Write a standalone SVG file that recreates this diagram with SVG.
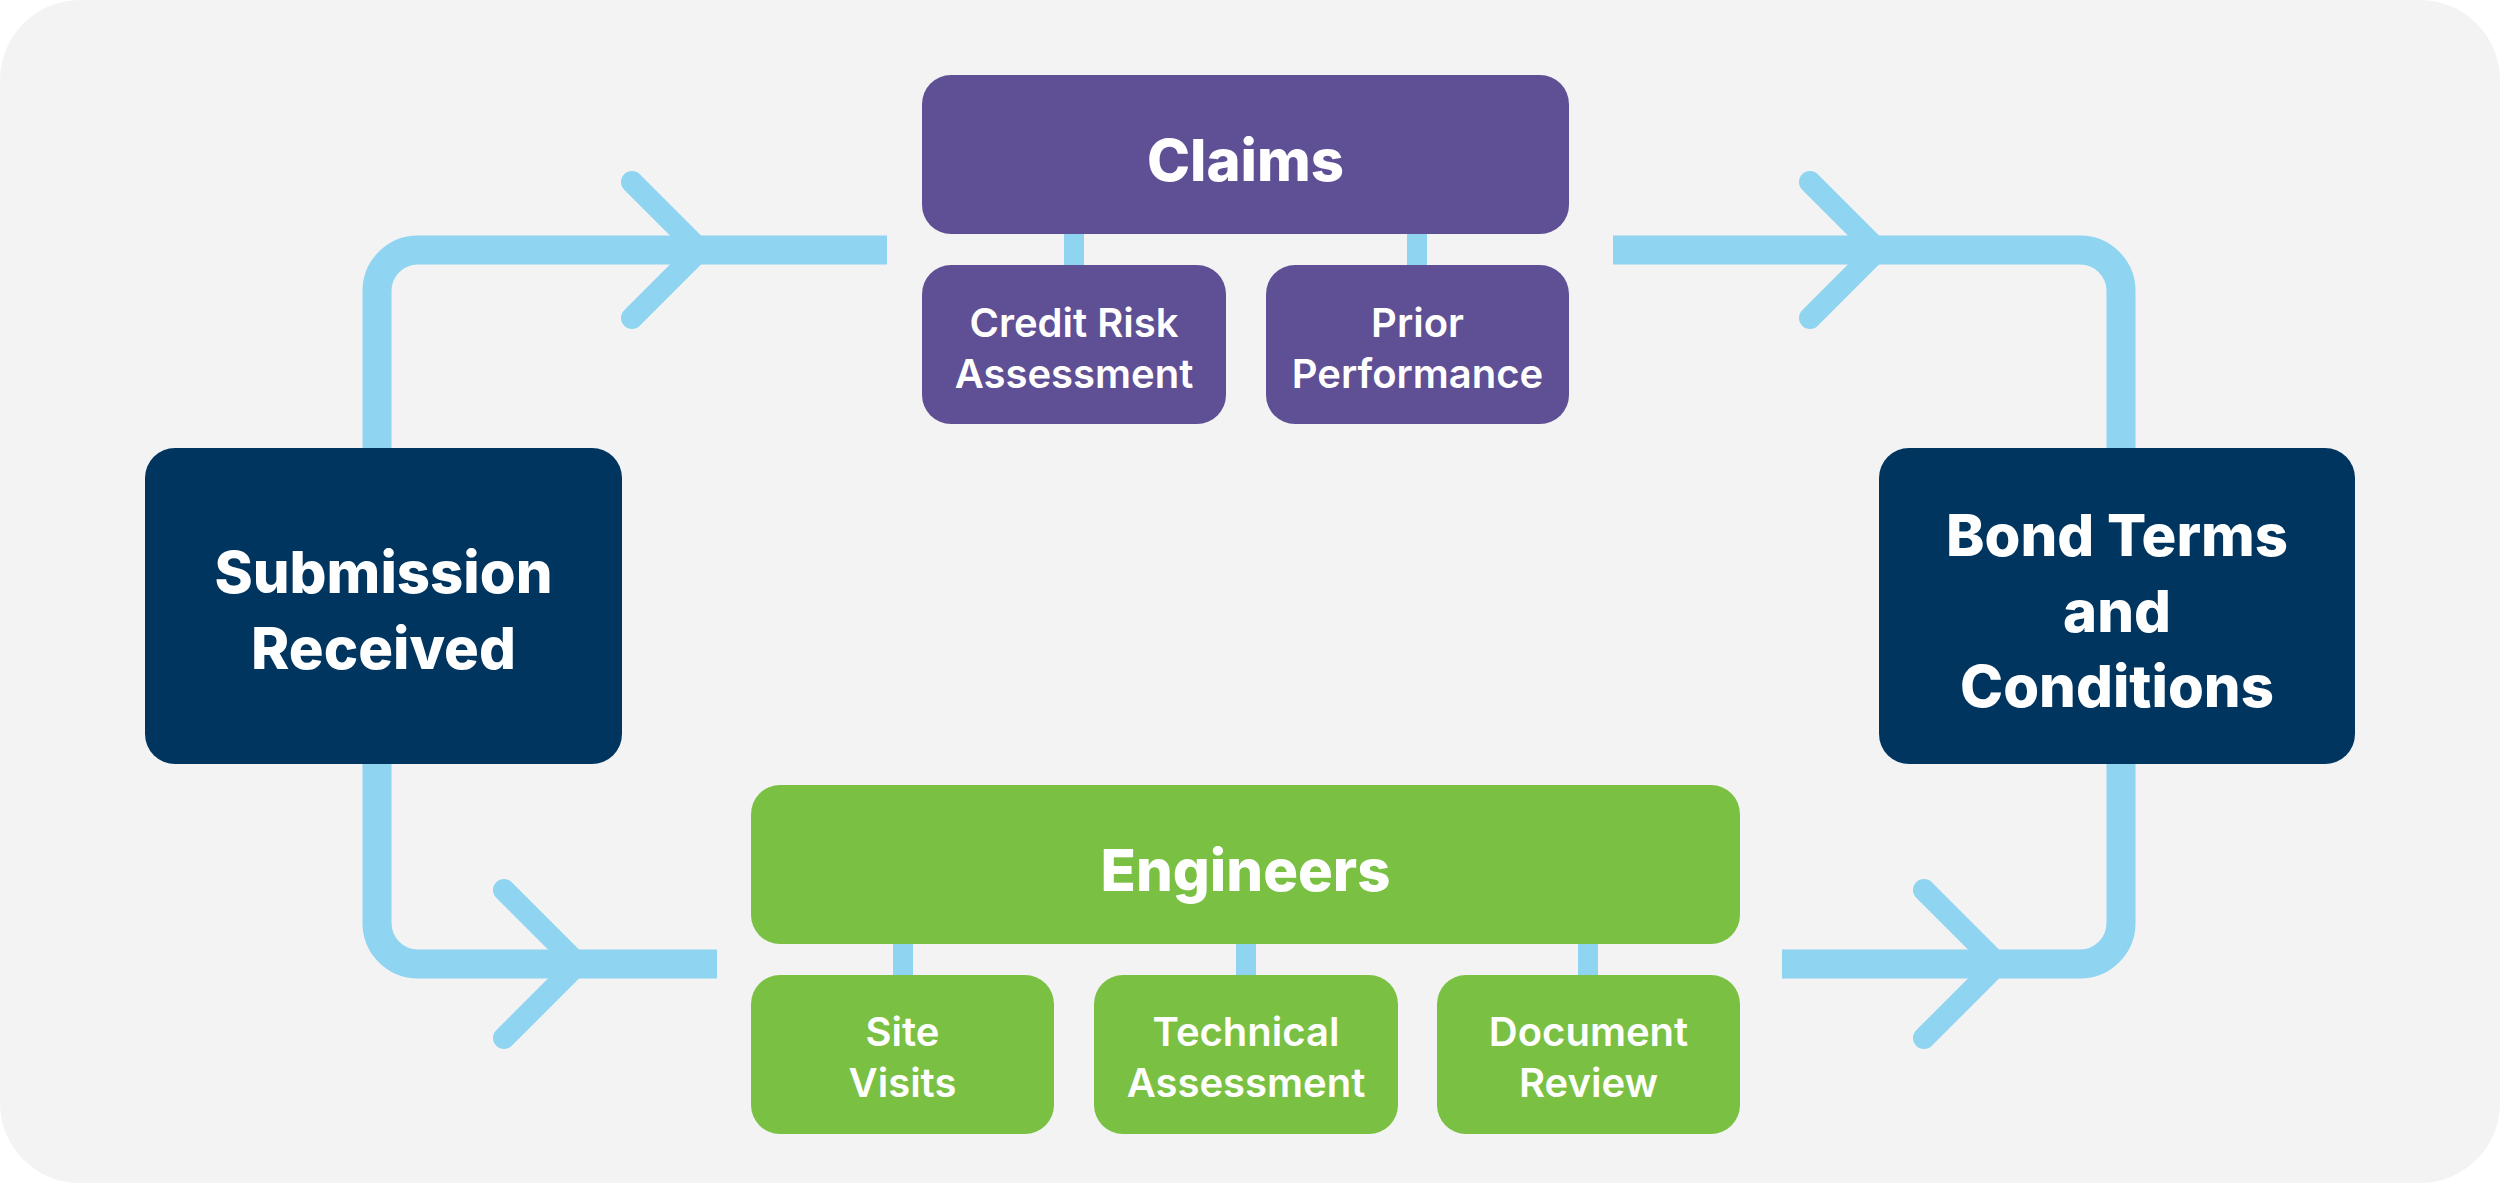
<svg xmlns="http://www.w3.org/2000/svg" width="2500" height="1183" viewBox="0 0 2500 1183">
<style>
.conn{fill:none;stroke:#8fd4f0;stroke-width:29}
.chev{fill:none;stroke:#8fd4f0;stroke-width:22;stroke-linecap:round;stroke-linejoin:round}
.bar{fill:#8fd4f0}
.purple{fill:#5f5096}
.navy{fill:#00355f}
.green{fill:#7ac143}
.big{font-family:Inter,"Open Sans","Liberation Sans",sans-serif;font-weight:800;font-size:58px;fill:#fff;text-anchor:middle}
.small{font-family:Inter,"Open Sans","Liberation Sans",sans-serif;font-weight:600;font-size:40px;fill:#fff;text-anchor:middle}
</style>
<rect x="0" y="0" width="2500" height="1183" fill="#ffffff"/>
<rect x="0" y="0" width="2500" height="1183" rx="80" ry="80" fill="#f3f3f3"/>
<g id="connectors">
<path class="conn" d="M377 448 V291 A41 41 0 0 1 418 250 H887"/>
<path class="conn" d="M1613 250 H2080 A41 41 0 0 1 2121 291 V448"/>
<path class="conn" d="M377 764 V923 A41 41 0 0 0 418 964 H717"/>
<path class="conn" d="M1782 964 H2080 A41 41 0 0 0 2121 923 V764"/>
<polyline class="chev" points="632,182 700,250 632,318"/>
<polyline class="chev" points="1810,182 1878,250 1810,318"/>
<polyline class="chev" points="504,890 578,964 504,1038"/>
<polyline class="chev" points="1924,890 1998,964 1924,1038"/>
<rect class="bar" x="1064" y="230" width="20" height="40"/>
<rect class="bar" x="1407" y="230" width="20" height="40"/>
<rect class="bar" x="893" y="940" width="20" height="40"/>
<rect class="bar" x="1236" y="940" width="20" height="40"/>
<rect class="bar" x="1578" y="940" width="20" height="40"/>
</g>
<g id="claims">
<rect class="purple" x="922" y="75" width="647" height="159" rx="29"/>
<text class="big" x="1245.5" y="181">Claims</text>
</g>
<g id="credit-risk">
<rect class="purple" x="922" y="265" width="304" height="159" rx="29"/>
<text class="small" x="1074" y="337">Credit Risk</text>
<text class="small" x="1074" y="388">Assessment</text>
</g>
<g id="prior-performance">
<rect class="purple" x="1266" y="265" width="303" height="159" rx="29"/>
<text class="small" x="1417.5" y="337">Prior</text>
<text class="small" x="1417.5" y="388">Performance</text>
</g>
<g id="submission">
<rect class="navy" x="145" y="448" width="477" height="316" rx="30"/>
<text class="big" x="383.5" y="593">Submission</text>
<text class="big" x="383.5" y="669">Received</text>
</g>
<g id="bond-terms">
<rect class="navy" x="1879" y="448" width="476" height="316" rx="30"/>
<text class="big" x="2117" y="556">Bond Terms</text>
<text class="big" x="2117" y="632">and</text>
<text class="big" x="2117" y="707">Conditions</text>
</g>
<g id="engineers">
<rect class="green" x="751" y="785" width="989" height="159" rx="29"/>
<text class="big" x="1245.5" y="891">Engineers</text>
</g>
<g id="site-visits">
<rect class="green" x="751" y="975" width="303" height="159" rx="29"/>
<text class="small" x="902.5" y="1046">Site</text>
<text class="small" x="902.5" y="1097">Visits</text>
</g>
<g id="technical-assessment">
<rect class="green" x="1094" y="975" width="304" height="159" rx="29"/>
<text class="small" x="1246" y="1046">Technical</text>
<text class="small" x="1246" y="1097">Assessment</text>
</g>
<g id="document-review">
<rect class="green" x="1437" y="975" width="303" height="159" rx="29"/>
<text class="small" x="1588.5" y="1046">Document</text>
<text class="small" x="1588.5" y="1097">Review</text>
</g>
</svg>
